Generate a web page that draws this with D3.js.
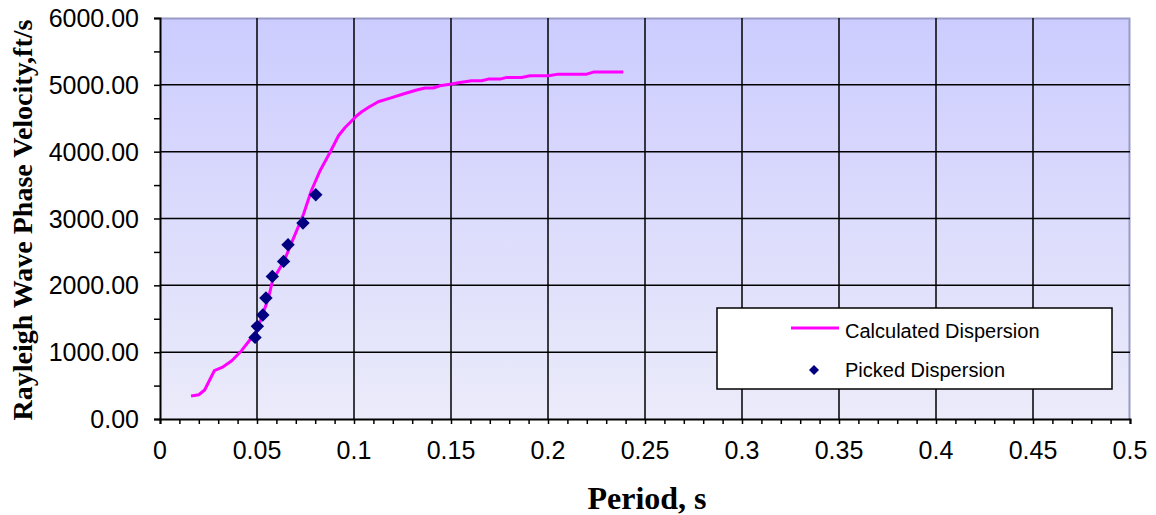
<!DOCTYPE html>
<html>
<head>
<meta charset="utf-8">
<script src="https://cdn.jsdelivr.net/npm/d3@7"></script>
<style>
body { margin:0; background:#fff; }
</style>
</head>
<body>
<script>
// calculated dispersion curve (period s, velocity ft/s)
var calcPeriod = [0.016,0.020,0.023,0.028,0.032,0.037,0.042,0.046,0.050,0.053,0.056,0.058,0.064,0.069,0.074,0.078,0.0825,0.0876,0.092,0.0954,0.1014,0.104,0.108,0.1125,0.1186,0.1254,0.1323,0.1366,0.1409,0.1443,0.1503,0.1546,0.1606,0.1658,0.1692,0.1753,0.1787,0.1864,0.1907,0.2002,0.2053,0.2199,0.2234,0.2388];
var calcVel = [345,363,434,722,772,872,1022,1171,1321,1571,1819,2069,2368,2717,3067,3415,3715,3988,4238,4362,4537,4597,4672,4747,4802,4862,4922,4952,4952,4986,5012,5036,5061,5061,5086,5086,5111,5111,5136,5136,5160,5160,5191,5191];
// picked dispersion points
var pickPeriod = [0.0490,0.0502,0.0530,0.0546,0.0579,0.0637,0.0660,0.0737,0.0803];
var pickVel = [1221,1386,1556,1810,2134,2358,2608,2932,3356];
var xTicks = [0,0.05,0.1,0.15,0.2,0.25,0.3,0.35,0.4,0.45,0.5];
var yTicks = [0,1000,2000,3000,4000,5000,6000];

var width = 1156, height = 515;
var pL = 160, pR = 1130, pT = 18, pB = 419;

var svg = d3.select("body").append("svg")
  .attr("width", width).attr("height", height);

var x = d3.scaleLinear().domain([0,0.5]).range([pL,pR]);
var y = d3.scaleLinear().domain([0,6000]).range([pB,pT]);

var grad = svg.append("defs").append("linearGradient")
  .attr("id","bg").attr("x1",0).attr("y1",0).attr("x2",0).attr("y2",1);
grad.append("stop").attr("offset","0%").attr("stop-color","#ccccff");
grad.append("stop").attr("offset","100%").attr("stop-color","#ebebfa");

svg.append("rect")
  .attr("x",pL).attr("y",pT)
  .attr("width",pR-pL).attr("height",pB-pT)
  .attr("fill","url(#bg)");

// top / right border
svg.append("path")
  .attr("d","M"+pL+","+(pT+0.5)+"H"+(pR-0.5)+"V"+pB)
  .attr("fill","none").attr("stroke","#9a9ac8").attr("stroke-width",2);

// gridlines
svg.append("g").selectAll("line").data(xTicks.slice(1,-1)).enter().append("line")
  .attr("x1",function(d){return x(d);}).attr("x2",function(d){return x(d);})
  .attr("y1",pT).attr("y2",pB)
  .attr("stroke","#000").attr("stroke-width",1.5);
svg.append("g").selectAll("line").data(yTicks.slice(1,-1)).enter().append("line")
  .attr("x1",pL).attr("x2",pR)
  .attr("y1",function(d){return y(d);}).attr("y2",function(d){return y(d);})
  .attr("stroke","#000").attr("stroke-width",1.5);

// axes
var xAxis = svg.append("g").attr("transform","translate(0,"+pB+")")
  .call(d3.axisBottom(x).tickValues(d3.range(0,0.5001,0.01)).tickSize(5).tickFormat(""));
var yAxis = svg.append("g").attr("transform","translate("+pL+",0)")
  .call(d3.axisLeft(y).tickValues(d3.range(0,6001,500)).tickSize(6).tickFormat(""));
[xAxis,yAxis].forEach(function(a){
  a.select(".domain").attr("stroke","#000").attr("stroke-width",2);
  a.selectAll(".tick line").attr("stroke","#000").attr("stroke-width",1.5);
});

svg.append("g").selectAll("text").data(xTicks).enter().append("text")
  .attr("x",function(d){return x(d);}).attr("y",pB+40)
  .attr("text-anchor","middle")
  .attr("font-family","Liberation Sans, Arial, sans-serif").attr("font-size",25)
  .text(function(d){return String(d);});
svg.append("g").selectAll("text").data(yTicks).enter().append("text")
  .attr("x",pL-21).attr("y",function(d){return y(d)+9;})
  .attr("text-anchor","end")
  .attr("font-family","Liberation Sans, Arial, sans-serif").attr("font-size",25)
  .text(function(d){return d.toFixed(2);});

svg.append("text")
  .attr("x",647).attr("y",509).attr("text-anchor","middle")
  .attr("font-family","Liberation Serif, Times New Roman, serif")
  .attr("font-weight","bold").attr("font-size",32)
  .text("Period, s");
svg.append("text")
  .attr("transform","translate(32,220) rotate(-90)")
  .attr("text-anchor","middle")
  .attr("font-family","Liberation Serif, Times New Roman, serif")
  .attr("font-weight","bold").attr("font-size",28)
  .text("Rayleigh Wave Phase Velocity,ft/s");

// curve
var line = d3.line()
  .x(function(d){return x(calcPeriod[d]);})
  .y(function(d){return y(calcVel[d]);});
svg.append("path")
  .datum(d3.range(calcPeriod.length))
  .attr("d",line)
  .attr("fill","none").attr("stroke","#ff00ff").attr("stroke-width",3)
  .attr("stroke-linejoin","round");

var diamond = d3.symbol().type(d3.symbolSquare).size(90);
svg.append("g").selectAll("path").data(pickPeriod).enter().append("path")
  .attr("d",diamond)
  .attr("transform",function(d,i){return "translate("+x(d)+","+y(pickVel[i])+") rotate(45)";})
  .attr("fill","#000080");

// legend
var lg = svg.append("g");
lg.append("rect").attr("x",717).attr("y",308).attr("width",395).attr("height",81)
  .attr("fill","#fff").attr("stroke","#000").attr("stroke-width",1.5);
lg.append("line").attr("x1",791).attr("x2",839).attr("y1",328).attr("y2",328)
  .attr("stroke","#ff00ff").attr("stroke-width",3);
lg.append("path").attr("d",d3.symbol().type(d3.symbolSquare).size(50))
  .attr("transform","translate(814,370) rotate(45)").attr("fill","#000080");
lg.append("text").attr("x",845).attr("y",338)
  .attr("font-family","Liberation Sans, Arial, sans-serif").attr("font-size",20)
  .text("Calculated Dispersion");
lg.append("text").attr("x",845).attr("y",377)
  .attr("font-family","Liberation Sans, Arial, sans-serif").attr("font-size",20)
  .text("Picked Dispersion");
</script>
</body>
</html>
